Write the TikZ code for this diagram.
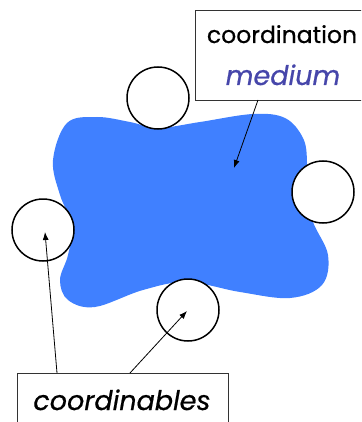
\documentclass[tikz,border=0pt]{standalone}
\usepackage{fontspec}
\setmainfont{Poppins}[UprightFeatures={FakeBold=0.6},ItalicFeatures={FakeBold=0.6}]
\usetikzlibrary{arrows.meta}
\definecolor{blobblue}{RGB}{64,128,255}
\definecolor{medblue}{RGB}{70,70,170}
\tikzset{
  agent/.style={circle, draw=black, line width=1.5pt, fill=white, minimum size=62pt, inner sep=0pt},
  labelbox/.style={draw=black!80, line width=0.9pt, fill=white},
  pointer/.style={draw=black, line width=0.8pt, -{Latex[length=8pt,width=6pt]}},
  lbl/.style={inner sep=0pt, anchor=base}
}
\begin{document}
\begin{tikzpicture}[x=1pt,y=-1pt]
\useasboundingbox (0,0) rectangle (361,422);
\begin{scope}
\clip (0,0) rectangle (361,422);
% blob (medium)
\fill[blobblue] plot[smooth cycle, tension=0.6] coordinates {
 (67,123) (97,117) (130,122) (158,128) (200,122) (253,114) (285,118)
 (303,138) (307,162) (305,190) (313,222) (328,255) (322,285) (290,298)
 (240,292) (187,282) (143,290) (95,307) (68,300) (60,280) (68,255)
 (72,225) (60,195) (53,160)};
% agents
\node[agent] (ctop) at (158,98) {};
\node[agent] (cright) at (323,192) {};
\node[agent] (cleft) at (43,230) {};
\node[agent] (cbot) at (188,310) {};
% boxes
\draw[labelbox] (195,10) rectangle (366,100);
\coordinate (mbox) at (258,100);
\node[lbl, font=\fontsize{23.5}{26}\selectfont] (tcoord) at (282,43) {coordination};
\node[lbl, text=medblue, font=\fontsize{27}{30}\selectfont] (tmed) at (283,85) {\itshape medium};
\draw[labelbox] (17,373) rectangle (228,430);
\coordinate (cbox1) at (57,373);
\coordinate (cbox2) at (130,373);
\node[lbl, font=\fontsize{27}{30}\selectfont] (tcoordinables) at (122,410) {\itshape coordinables};
% pointers
\coordinate (mtip) at (234,168);
\coordinate (ltip) at (45,232);
\coordinate (btip) at (187,311);
\draw[pointer] (mbox) -- (mtip);
\draw[pointer] (cbox1) -- (ltip);
\draw[pointer] (cbox2) -- (btip);
\end{scope}
\end{tikzpicture}
\end{document}
